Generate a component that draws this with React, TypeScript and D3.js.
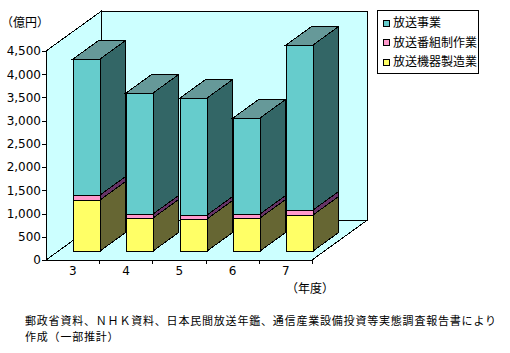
import { useRef, useEffect } from "react";
import * as d3 from "d3";

// 年度
const years = ["3", "4", "5", "6", "7"];
// 億円 (stacked bottom-up)
const equipment = [1100, 710, 680, 700, 760]; // 放送機器製造業
const production = [90, 90, 90, 90, 110]; // 放送番組制作業
const broadcasting = [2930, 2590, 2520, 2060, 3560]; // 放送事業
const yTicks = [0, 500, 1000, 1500, 2000, 2500, 3000, 3500, 4000, 4500];

const legendNames = ["放送事業", "放送番組制作業", "放送機器製造業"];
const sourceLines = [
  "郵政省資料、ＮＨＫ資料、日本民間放送年鑑、通信産業設備投資等実態調査報告書により",
  "作成（一部推計）",
];

const App = () => {
  const svgRef = useRef<SVGSVGElement>(null);

  useEffect(() => {
    const width = 510;
    const height = 353;
    const jp = "'Noto Sans CJK JP', sans-serif";
    const num = "'DejaVu Sans', sans-serif";

    const svg = d3.select(svgRef.current).attr("width", width).attr("height", height);
    svg.selectAll("*").remove();

    // ——— escalas ———
    const x = d3
      .scaleBand<string>()
      .domain(years)
      .range([46, 312])
      .paddingInner(0.49)
      .paddingOuter(0.245)
      .align(0.55);
    const y = d3.scaleLinear().domain([0, 4500]).range([260, 51]);

    // profundidad 3D (oblicua)
    const dx = 55.5;
    const dy = -40;
    const fa = 0.2325; // cara frontal de la barra
    const fb = 0.6975; // cara trasera

    const [x0, x1] = x.range();
    const [yB, yT] = y.range();

    const pts = (p: number[][]) => p.map((q) => q.join(",")).join(" ");
    const wall = "#CCFFFF";

    const g = svg.append("g").attr("shape-rendering", "crispEdges");

    // ——— paredes y suelo ———
    g.append("polygon")
      .attr("points", pts([[x0 + dx, yT + dy], [x1 + dx, yT + dy], [x1 + dx, yB + dy], [x0 + dx, yB + dy]]))
      .attr("fill", wall)
      .attr("stroke", "#000");
    g.append("polygon")
      .attr("points", pts([[x0, yT], [x0 + dx, yT + dy], [x0 + dx, yB + dy], [x0, yB]]))
      .attr("fill", wall)
      .attr("stroke", "#000");
    g.append("polygon")
      .attr("points", pts([[x0, yB], [x1, yB], [x1 + dx, yB + dy], [x0 + dx, yB + dy]]))
      .attr("fill", wall)
      .attr("stroke", "#000");

    // ——— ejes ———
    g.append("line").attr("x1", x0).attr("x2", x0).attr("y1", yT).attr("y2", yB).attr("stroke", "#000");
    g.append("line").attr("x1", x0).attr("x2", x1).attr("y1", yB).attr("y2", yB).attr("stroke", "#000");

    g.selectAll(".ytick")
      .data(yTicks)
      .join("line")
      .attr("x1", x0 - 4)
      .attr("x2", x0)
      .attr("y1", (d) => Math.round(y(d)))
      .attr("y2", (d) => Math.round(y(d)))
      .attr("stroke", "#000");

    svg
      .append("g")
      .selectAll("text")
      .data(yTicks)
      .join("text")
      .attr("x", x0 - 5)
      .attr("y", (d) => y(d))
      .attr("dy", "0.36em")
      .attr("text-anchor", "end")
      .style("font", `12px ${num}`)
      .text((d) => d3.format(",")(d));

    const step = x.step();
    g.selectAll(".xtick")
      .data(years)
      .join("line")
      .attr("x1", (_, i) => Math.round(x0 + step * (i + 1)))
      .attr("x2", (_, i) => Math.round(x0 + step * (i + 1)))
      .attr("y1", yB)
      .attr("y2", yB + 4)
      .attr("stroke", "#000");

    svg
      .append("g")
      .selectAll("text")
      .data(years)
      .join("text")
      .attr("x", (d) => x(d)! + x.bandwidth() / 2 - 1)
      .attr("y", 275)
      .attr("text-anchor", "middle")
      .style("font", `12px ${num}`)
      .text((d) => d);

    // ——— barras apiladas ———
    const rows = years.map((yr, i) => ({
      year: yr,
      equipment: equipment[i],
      production: production[i],
      broadcasting: broadcasting[i],
    }));
    const keys = ["equipment", "production", "broadcasting"];
    const stacked = d3.stack<any>().keys(keys)(rows);

    const colors: Record<string, { front: string; side: string; top: string }> = {
      equipment: { front: "#FFFF66", side: "#666633", top: "#999966" },
      production: { front: "#FF99CC", side: "#663366", top: "#996699" },
      broadcasting: { front: "#66CCCC", side: "#336666", top: "#669999" },
    };

    const sdx = (fb - fa) * dx;
    const sdy = (fb - fa) * dy;
    const bars = svg.append("g").attr("shape-rendering", "crispEdges");

    years.forEach((yr, i) => {
      const xl = Math.round(x(yr)! + fa * dx);
      const xr = Math.round(xl + x.bandwidth());
      stacked.forEach((layer, li) => {
        const c = colors[layer.key];
        const d = layer[i];
        const yb = Math.round(y(d[0]) + fa * dy);
        const yt = Math.round(y(d[1]) + fa * dy);
        bars
          .append("polygon")
          .attr("points", pts([[xl, yb], [xr, yb], [xr, yt], [xl, yt]]))
          .attr("fill", c.front)
          .attr("stroke", "#000");
        bars
          .append("polygon")
          .attr("points", pts([[xr, yb], [xr + sdx, yb + sdy], [xr + sdx, yt + sdy], [xr, yt]]))
          .attr("fill", c.side)
          .attr("stroke", "#000");
        if (li === stacked.length - 1) {
          bars
            .append("polygon")
            .attr("points", pts([[xl, yt], [xr, yt], [xr + sdx, yt + sdy], [xl + sdx, yt + sdy]]))
            .attr("fill", c.top)
            .attr("stroke", "#000");
        }
      });
    });

    // ——— textos ———
    svg
      .append("text")
      .attr("x", 1)
      .attr("y", 27)
      .style("font", `12px ${jp}`)
      .text("（億円）");

    svg
      .append("text")
      .attr("x", 286)
      .attr("y", 293)
      .style("font", `12px ${jp}`)
      .text("（年度）");

    svg
      .append("g")
      .selectAll("text")
      .data(sourceLines)
      .join("text")
      .attr("x", 25)
      .attr("y", (_, i) => 325 + i * 16)
      .style("font", `11px ${jp}`)
      .style("letter-spacing", "0.8px")
      .text((d) => d);

    // ——— leyenda ———
    const legend = svg.append("g");
    legend
      .append("rect")
      .attr("x", 377.5)
      .attr("y", 10.5)
      .attr("width", 101)
      .attr("height", 63)
      .attr("fill", "#fff")
      .attr("stroke", "#000");
    const legendKeys = ["broadcasting", "production", "equipment"];
    legendNames.forEach((name, i) => {
      const cy = 23 + i * 19.5;
      legend
        .append("rect")
        .attr("x", 383.5)
        .attr("y", Math.round(cy - 3.5) + 0.5)
        .attr("width", 6)
        .attr("height", 6)
        .attr("fill", colors[legendKeys[i]].front)
        .attr("stroke", "#000");
      legend
        .append("text")
        .attr("x", 393)
        .attr("y", cy)
        .attr("dy", "0.36em")
        .style("font", `12px ${jp}`)
        .text(name);
    });

    return () => {
      svg.selectAll("*").remove();
    };
  }, []);

  return (
    <svg
      ref={svgRef}
      style={{ position: "absolute", left: 0, top: 0, background: "#fff" }}
    ></svg>
  );
};

export default App;
